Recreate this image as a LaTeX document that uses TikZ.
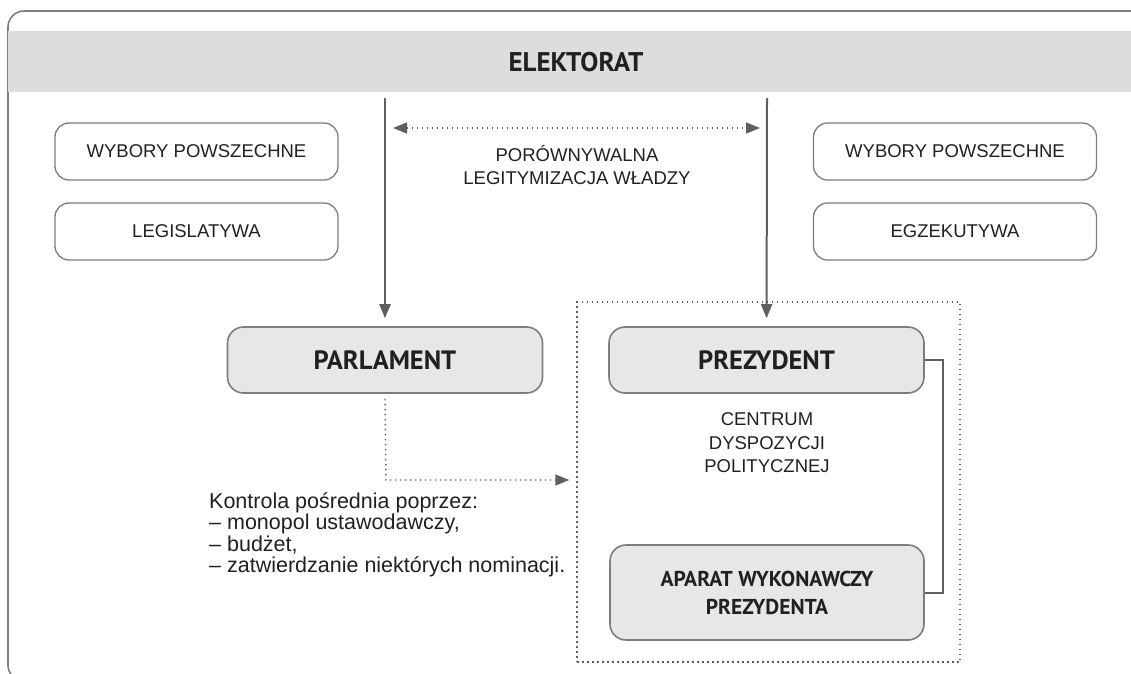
\documentclass[tikz,border=0pt]{standalone}
\usepackage{fontspec}
\setmainfont{Liberation Sans}
\newfontfamily\headfont{PT Sans}
\usetikzlibrary{arrows.meta,positioning}
\definecolor{frgray}{RGB}{125,125,125}
\definecolor{lngray}{RGB}{95,95,95}
\definecolor{bandgray}{RGB}{220,221,223}
\definecolor{boxgray}{RGB}{230,231,232}
\definecolor{txtgray}{RGB}{35,31,32}

\tikzset{
  softbox/.style={draw=frgray, line width=1.3pt, rounded corners=14pt,
    minimum width=283pt, minimum height=57pt, text=txtgray,
    font=\fontsize{18.5}{20}\selectfont},
  mainbox/.style={draw=frgray, fill=boxgray, line width=1.6pt, rounded corners=16pt,
    minimum width=315pt, minimum height=66pt, text=txtgray, align=center,
    font=\headfont\bfseries\fontsize{26.5}{28}\selectfont},
  plain/.style={text=txtgray, align=center, font=\fontsize{18.5}{23.5}\selectfont},
  tip/.style={-{Triangle[length=14pt,width=11pt]}},
  vote/.style={draw=lngray, line width=2pt, tip},
  dotline/.style={draw=lngray, line width=1.4pt, dash pattern=on 1.5pt off 3.5pt},
}

\begin{document}
\begin{tikzpicture}[x=1pt, y=-1pt]
  \clip (0,0) rectangle (1131,673);
  \useasboundingbox (0,0) rectangle (1131,673);
  % frame and electorate band
  \draw[frgray, line width=1.6pt, rounded corners=16pt] (8,11) rectangle (1150,681);
  \fill[bandgray] (8,31) rectangle (1150,92);
  \node[text=txtgray, font=\headfont\bfseries\fontsize{27}{28}\selectfont] (elek) at (576,62) {ELEKTORAT};
  \coordinate (voteL) at (385,98);
  \coordinate (voteR) at (767,98);

  % side labels
  \node[softbox] (wybL) at (196.5,151.5) {WYBORY POWSZECHNE};
  \node[softbox] (legis) at (196.5,231.5) {LEGISLATYWA};
  \node[softbox] (wybR) at (955,151.5) {WYBORY POWSZECHNE};
  \node[softbox] (egzek) at (955,231.5) {EGZEKUTYWA};

  % comparable legitimacy
  \coordinate (cmpL) at (393,128);
  \coordinate (cmpR) at (760,128);
  \draw[dotline, {Triangle[length=14pt,width=11pt]}-{Triangle[length=14pt,width=11pt]}] (cmpL) -- (cmpR);
  \node[plain] (legit) at (577,165) {PORÓWNYWALNA\\LEGITYMIZACJA WŁADZY};

  % executive zone
  \node[dotline, minimum width=383pt, minimum height=360pt] (zone) at (768.5,482) {};

  % main bodies
  \node[mainbox] (parl) at (385,360) {PARLAMENT};
  \node[mainbox] (prez) at (766.5,360) {PREZYDENT};
  \node[mainbox, minimum width=314pt, minimum height=95pt,
    font=\headfont\bfseries\fontsize{21.5}{28}\selectfont] (aparat) at (767,592.5)
    {APARAT WYKONAWCZY\\PREZYDENTA};
  \node[plain] (centrum) at (767,443) {CENTRUM\\DYSPOZYCJI\\POLITYCZNEJ};

  % elections
  \draw[vote, shorten >=8pt] (voteL) -- (parl);
  \draw[vote, shorten >=8pt] (voteR) -- (prez);

  % indirect control
  \coordinate (turn) at (386,480);
  \draw[dotline, tip, shorten >=7pt] ([yshift=-5pt]parl.south) -- (turn) -- (zone.west |- turn);
  \node[plain, align=left, anchor=north west, inner sep=0pt,
    font=\fontsize{21.5}{21.5}\selectfont] (ctrl) at (209,492)
    {Kontrola pośrednia poprzez:\\– monopol ustawodawczy,\\– budżet,\\– zatwierdzanie niektórych nominacji.};

  % president and apparatus
  \draw[lngray, line width=2pt] (prez.east) -- ++(18,0) |- (aparat.east);
\end{tikzpicture}
\end{document}
